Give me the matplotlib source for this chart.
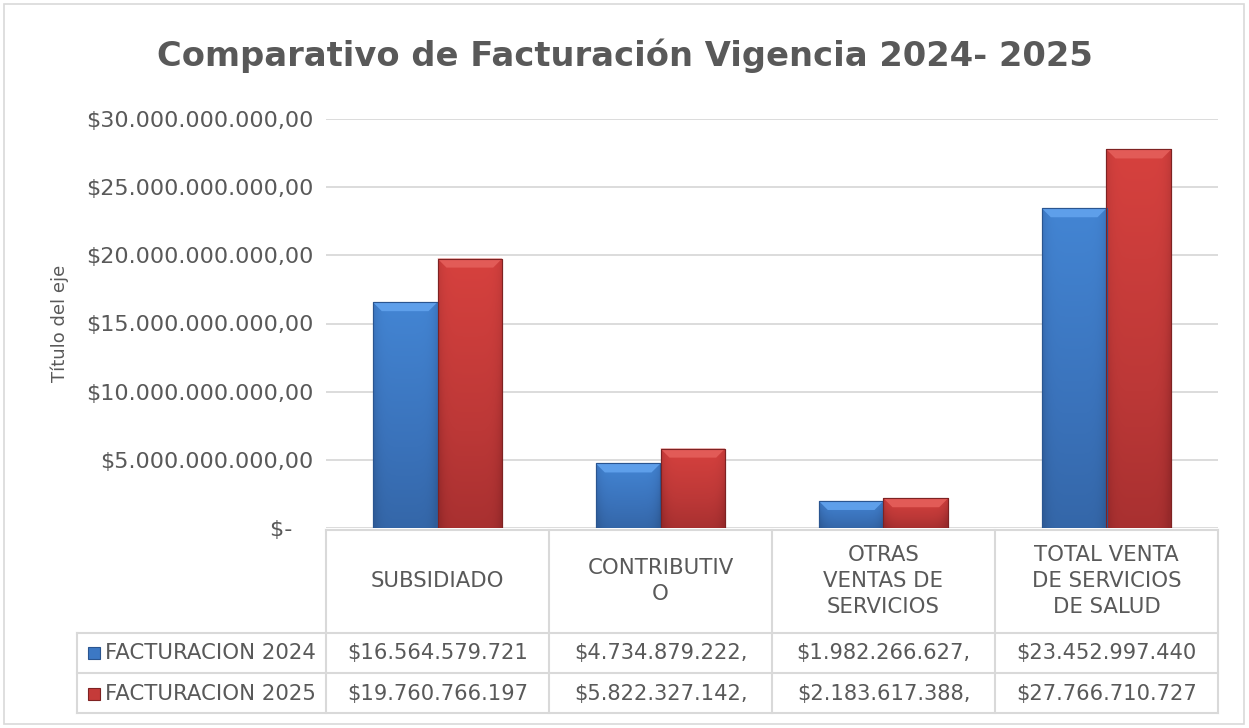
import numpy as np
import matplotlib.pyplot as plt
from matplotlib.colors import LinearSegmentedColormap
from matplotlib.patches import Rectangle, Polygon
from matplotlib.lines import Line2D

# datos
categorias = ["SUBSIDIADO", "CONTRIBUTIV\nO", "OTRAS\nVENTAS DE\nSERVICIOS",
              "TOTAL VENTA\nDE SERVICIOS\nDE SALUD"]
series = ["FACTURACION 2024", "FACTURACION 2025"]
fact_2024 = [16564579721, 4734879222, 1982266627, 23452997440]
fact_2025 = [19760766197, 5822327142, 2183617388, 27766710727]
yticks = [0, 5e9, 10e9, 15e9, 20e9, 25e9, 30e9]

titulo = "Comparativo de Facturación Vigencia 2024- 2025"
eje_y = "Título del eje"

gris = "#595959"
linea = "#D9D9D9"
plt.rcParams['font.family'] = ['DejaVu Sans']

W, H = 1249, 728
fig = plt.figure(figsize=(W / 100, H / 100), dpi=100)


def fx(px):
    return px / W


def fy(py):
    return 1 - py / H


def money(v):
    if v == 0:
        return "$-   "
    s = f"${v:,.2f}"
    return s.replace(",", "#").replace(".", ",").replace("#", ".")


ax = fig.add_axes([fx(326), fy(528), fx(1218) - fx(326), fy(119) - fy(528)])

x = np.arange(len(categorias))
w = 0.29
b1 = ax.bar(x - w / 2, fact_2024, w, color="#3C78C4", edgecolor="#2A5590", lw=0.8, zorder=3)
b2 = ax.bar(x + w / 2, fact_2025, w, color="#C53B39", edgecolor="#7E2222", lw=0.8, zorder=3)

ax.set_xlim(-0.5, len(categorias) - 0.5)
ax.set_ylim(0, 30e9)

cm_azul = LinearSegmentedColormap.from_list("az", ["#2F5C98", "#3A72BA", "#4487D6"])
cm_rojo = LinearSegmentedColormap.from_list("ro", ["#96292A", "#BC3837", "#D9423F"])

# px -> unidades de datos
ppx = 223.0          # px por categoria
ppy = 409.0 / 30e9   # px por unidad


def shade(patch, cmap, bevel_col):
    x0, w0, h0 = patch.get_x(), patch.get_width(), patch.get_height()
    v = np.linspace(1, 0, 80).reshape(-1, 1)
    u = np.linspace(0, 1, 40).reshape(1, -1)
    img = 0.25 + 0.7 * v - 0.35 * np.abs(2 * u - 1) ** 6
    im = ax.imshow(img, cmap=cmap, vmin=0, vmax=1, extent=[x0, x0 + w0, 0, h0],
                   aspect="auto", origin="upper", zorder=3.5, interpolation="bicubic")
    im.set_clip_path(patch)
    dx = 9 / ppx
    dy = 9 / ppy
    bev = Polygon([(x0, h0), (x0 + w0, h0), (x0 + w0 - dx, h0 - dy), (x0 + dx, h0 - dy)],
                  closed=True, facecolor=bevel_col, edgecolor="none", zorder=4)
    ax.add_patch(bev)
    ax.add_patch(Rectangle((x0, 0), w0, h0, fill=False, edgecolor=patch.get_edgecolor(),
                           lw=0.8, zorder=4.5))


for p in b1:
    shade(p, cm_azul, "#5E9FEA")
for p in b2:
    shade(p, cm_rojo, "#E25B57")

ax.set_xlim(-0.5, len(categorias) - 0.5)
ax.set_ylim(0, 30e9)
ax.set_yticks(yticks)
ax.set_yticklabels([money(v) for v in yticks], color=gris, fontsize=16)
ax.tick_params(axis="y", length=0, pad=9)
ax.set_xticks([])
for s in ax.spines.values():
    s.set_visible(False)
ax.grid(axis="y", color=linea, lw=1.3, zorder=0)
ax.set_axisbelow(True)

fig.text(0.5, fy(56), titulo, ha="center", va="center", fontsize=24.3,
         fontweight="bold", color=gris)
fig.text(fx(60), fy(323), eje_y, rotation=90, ha="center", va="center",
         fontsize=13, color=gris)

# tabla de datos
inv = fig.transFigure.inverted()
bx = [inv.transform(ax.transData.transform((i - 0.5, 0)))[0] for i in range(len(categorias) + 1)]
cx = [inv.transform(ax.transData.transform((i, 0)))[0] for i in range(len(categorias))]


def hline(x0, x1, y):
    fig.add_artist(Line2D([x0, x1], [y, y], color=linea, lw=1.5, transform=fig.transFigure))


def vline(xx, y0, y1):
    fig.add_artist(Line2D([xx, xx], [y0, y1], color=linea, lw=1.5, transform=fig.transFigure))


hline(bx[0], bx[-1], fy(530))
for yy in [633, 673, 713]:
    hline(fx(77), bx[-1], fy(yy))
for xx in bx:
    vline(xx, fy(530), fy(713))
vline(fx(77), fy(633), fy(713))

for i, c in enumerate(categorias):
    fig.text(cx[i], fy(581), c, ha="center", va="center", fontsize=15.3,
             color=gris, linespacing=1.4, multialignment="center")

filas = [fact_2024, fact_2025]
colores = ["#3C78C4", "#C53B39"]
bordes = ["#2A5590", "#7E2222"]
for r, (nombre, vals) in enumerate(zip(series, filas)):
    yc = [653, 694][r]
    fig.add_artist(Rectangle((fx(88), fy(yc + 6)), fx(12), 12 / H, facecolor=colores[r],
                             edgecolor=bordes[r], lw=0.8, transform=fig.transFigure))
    fig.text(fx(105), fy(yc), nombre, ha="left", va="center", fontsize=15.3, color=gris)
    for i, v in enumerate(vals):
        fig.text(cx[i], fy(yc), money(v)[:15], ha="center", va="center",
                 fontsize=15.1, color=gris)

fig.add_artist(Rectangle((fx(4), fy(724)), fx(1240), 720 / H, fill=False,
                         edgecolor=linea, lw=1.2, transform=fig.transFigure))

fig.savefig("out.png", dpi=100)
